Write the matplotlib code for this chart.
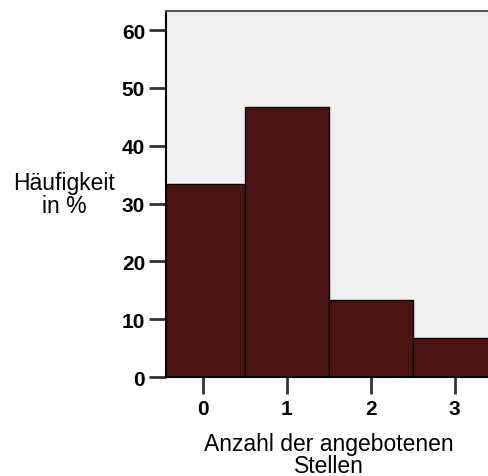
import matplotlib.pyplot as plt

stellen = [0, 1, 2, 3]
prozent = [33.3, 46.7, 13.3, 6.7]
y_ticks = [0, 10, 20, 30, 40, 50, 60]

fig = plt.figure(figsize=(4.88, 4.77), dpi=100)
ax = fig.add_axes([0.340, 0.2075, 0.662, 0.7675])
ax.set_facecolor("#f0f0f0")

ax.bar(stellen, prozent, width=1.0, color="#4a1414", edgecolor="black", linewidth=1.0, zorder=2)

ax.set_xlim(-0.44, 3.41)
ax.set_ylim(0, 63.3)
ax.set_xticks(stellen)
ax.set_yticks(y_ticks)
ax.set_xticklabels([str(s) for s in stellen], fontfamily="Liberation Sans", fontweight="bold", fontsize=15)
ax.set_yticklabels([str(t) for t in y_ticks], fontfamily="Liberation Sans", fontweight="bold", fontsize=15)
ax.tick_params(axis="both", length=12, width=2, color="#333333", pad=4)
ax.tick_params(axis="y", pad=3)

for side in ["left", "bottom"]:
    ax.spines[side].set_linewidth(1.5)
    ax.spines[side].set_color("black")
ax.spines["top"].set_color("#555555")
ax.spines["top"].set_linewidth(1.5)
ax.spines["right"].set_visible(False)

fig.text(0.673, 1 - 433 / 477, "Anzahl der angebotenen\nStellen", ha="center", va="top",
         fontfamily="Liberation Sans", fontsize=16.5, linespacing=0.95)
fig.text(0.131, 1 - 172 / 477, "Häufigkeit\nin %", ha="center", va="top",
         fontfamily="Liberation Sans", fontsize=16.5, linespacing=1.0)

fig.savefig("out.png", dpi=100)
